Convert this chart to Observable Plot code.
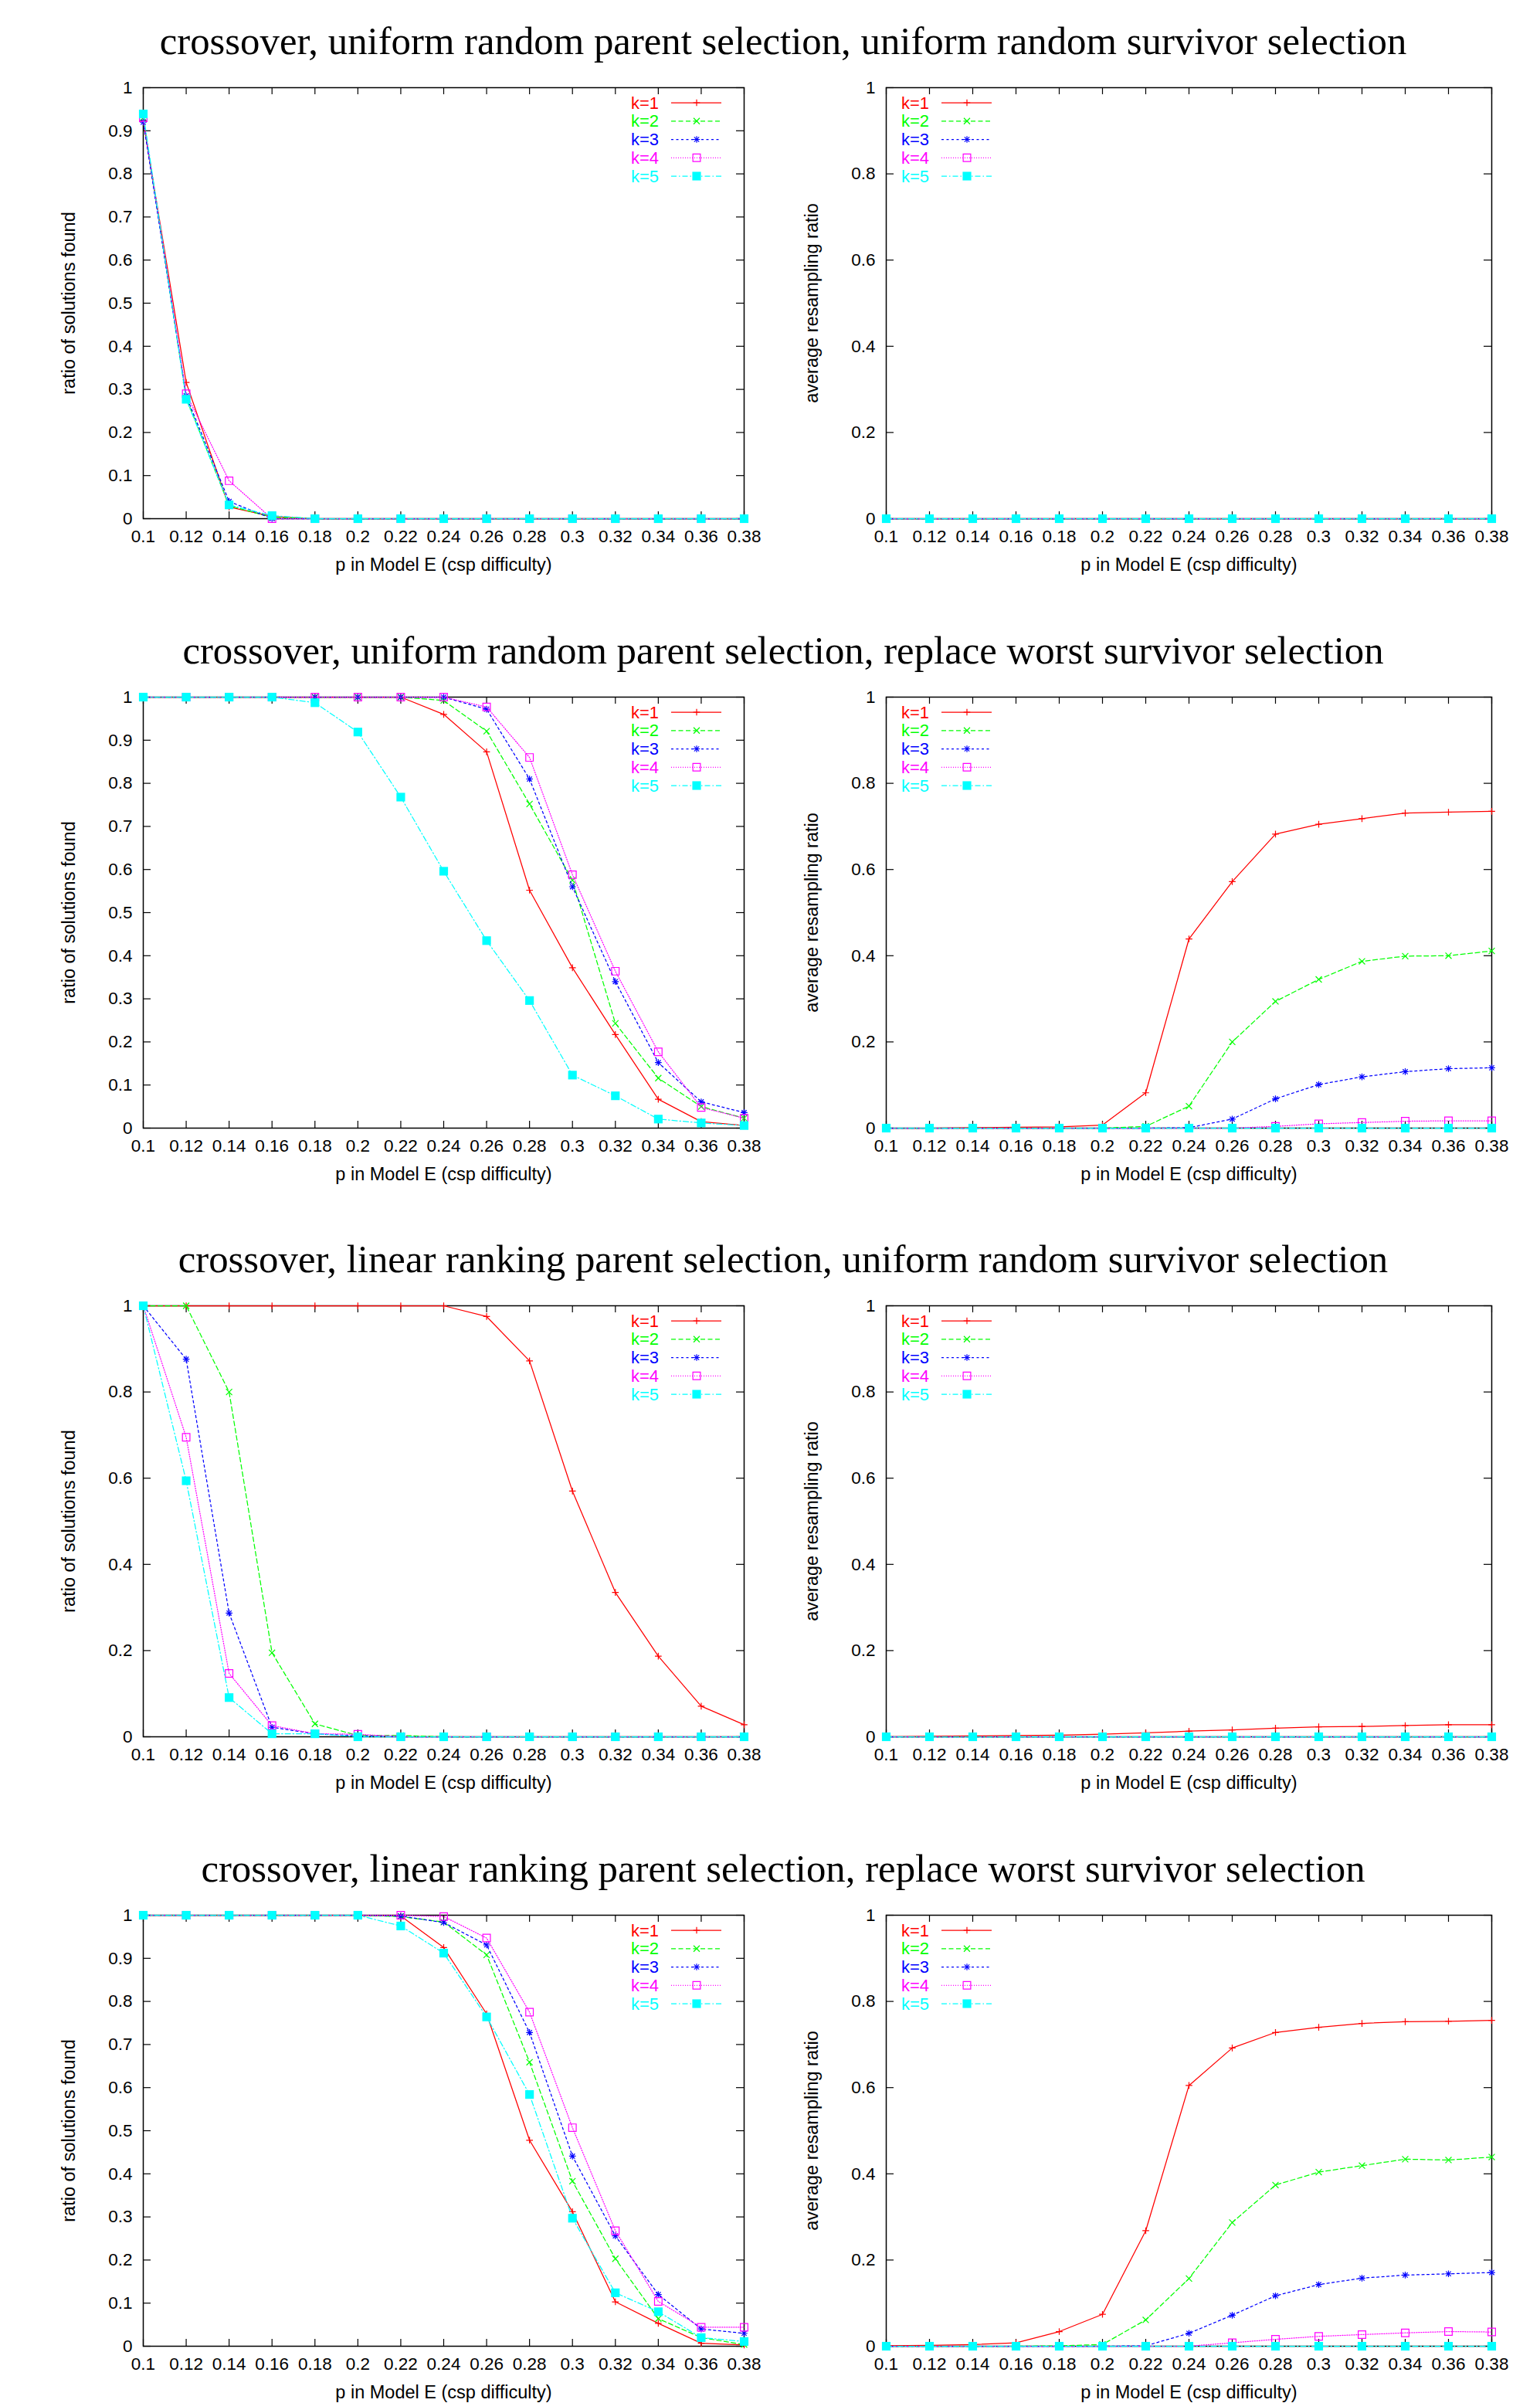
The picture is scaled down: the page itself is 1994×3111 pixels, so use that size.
<!DOCTYPE html>
<html>
<head>
<meta charset="utf-8">
<script src="https://cdn.jsdelivr.net/npm/d3@7"></script>
<script src="https://cdn.jsdelivr.net/npm/@observablehq/plot@0.6"></script>
<style>
  html, body { margin: 0; padding: 0; background: #fff; }
  body { width: 1994px; height: 3111px; position: relative; overflow: hidden; }
  .title { position: absolute; left: 0; width: 2028px; text-align: center; font-family: "Liberation Serif", serif; font-size: 50.8px; line-height: 60px; color: #000; white-space: nowrap; }
  .panel { position: absolute; }
</style>
</head>
<body>
<script>
// ---------------- data ----------------
const xValues = [0.1, 0.12, 0.14, 0.16, 0.18, 0.2, 0.22, 0.24, 0.26, 0.28, 0.3, 0.32, 0.34, 0.36, 0.38];
const xTickLabels = ["0.1", "0.12", "0.14", "0.16", "0.18", "0.2", "0.22", "0.24", "0.26", "0.28", "0.3", "0.32", "0.34", "0.36", "0.38"];
const yTicksFine = [0, 0.1, 0.2, 0.3, 0.4, 0.5, 0.6, 0.7, 0.8, 0.9, 1];
const yTickLabelsFine = ["0", "0.1", "0.2", "0.3", "0.4", "0.5", "0.6", "0.7", "0.8", "0.9", "1"];
const yTicksCoarse = [0, 0.2, 0.4, 0.6, 0.8, 1];
const yTickLabelsCoarse = ["0", "0.2", "0.4", "0.6", "0.8", "1"];
const seriesNames = ["k=1", "k=2", "k=3", "k=4", "k=5"];
const titles = [
  "crossover, uniform random parent selection, uniform random survivor selection",
  "crossover, uniform random parent selection, replace worst survivor selection",
  "crossover, linear ranking parent selection, uniform random survivor selection",
  "crossover, linear ranking parent selection, replace worst survivor selection"
];
const xAxisTitle = "p in Model E (csp difficulty)";
const yTitleSolved = "ratio of solutions found";
const yTitleResampling = "average resampling ratio";

// row 1: uniform random parent, uniform random survivor
const uuSolvedK1 = [0.923, 0.316, 0.027, 0.005, 0, 0, 0, 0, 0, 0, 0, 0, 0, 0, 0];
const uuSolvedK2 = [0.93, 0.28, 0.03, 0.003, 0, 0, 0, 0, 0, 0, 0, 0, 0, 0, 0];
const uuSolvedK3 = [0.92, 0.285, 0.04, 0, 0, 0, 0, 0, 0, 0, 0, 0, 0, 0, 0];
const uuSolvedK4 = [0.93, 0.29, 0.088, 0, 0, 0, 0, 0, 0, 0, 0, 0, 0, 0, 0];
const uuSolvedK5 = [0.939, 0.277, 0.032, 0.007, 0, 0, 0, 0, 0, 0, 0, 0, 0, 0, 0];
const uuResampK1 = [0, 0, 0, 0, 0, 0, 0, 0, 0, 0, 0, 0, 0, 0, 0];
const uuResampK2 = [0, 0, 0, 0, 0, 0, 0, 0, 0, 0, 0, 0, 0, 0, 0];
const uuResampK3 = [0, 0, 0, 0, 0, 0, 0, 0, 0, 0, 0, 0, 0, 0, 0];
const uuResampK4 = [0, 0, 0, 0, 0, 0, 0, 0, 0, 0, 0, 0, 0, 0, 0];
const uuResampK5 = [0, 0, 0, 0, 0, 0, 0, 0, 0, 0, 0, 0, 0, 0, 0];

// row 2: uniform random parent, replace worst survivor
const urSolvedK1 = [1, 1, 1, 1, 1, 1, 1, 0.96, 0.873, 0.552, 0.372, 0.217, 0.067, 0.015, 0.006];
const urSolvedK2 = [1, 1, 1, 1, 1, 1, 1, 0.992, 0.921, 0.752, 0.575, 0.243, 0.116, 0.05, 0.023];
const urSolvedK3 = [1, 1, 1, 1, 1, 1, 1, 1, 0.972, 0.81, 0.56, 0.34, 0.152, 0.061, 0.036];
const urSolvedK4 = [1, 1, 1, 1, 1, 1, 1, 1, 0.977, 0.86, 0.588, 0.364, 0.177, 0.048, 0.023];
const urSolvedK5 = [1, 1, 1, 1, 0.987, 0.919, 0.768, 0.596, 0.435, 0.296, 0.123, 0.075, 0.021, 0.012, 0.006];
const urResampK1 = [0, 0, 0.001, 0.002, 0.003, 0.007, 0.082, 0.439, 0.572, 0.682, 0.705, 0.718, 0.731, 0.733, 0.735];
const urResampK2 = [0, 0, 0, 0, 0, 0, 0.004, 0.051, 0.2, 0.294, 0.345, 0.387, 0.399, 0.4, 0.411];
const urResampK3 = [0, 0, 0, 0, 0, 0, 0, 0.001, 0.021, 0.068, 0.101, 0.119, 0.131, 0.138, 0.14];
const urResampK4 = [0, 0, 0, 0, 0, 0, 0, 0, 0, 0.004, 0.01, 0.013, 0.016, 0.017, 0.017];
const urResampK5 = [0, 0, 0, 0, 0, 0, 0, 0, 0, 0, 0, 0, 0, 0, 0];

// row 3: linear ranking parent, uniform random survivor
const luSolvedK1 = [1, 1, 1, 1, 1, 1, 1, 1, 0.975, 0.872, 0.57, 0.335, 0.187, 0.071, 0.028];
const luSolvedK2 = [1, 1, 0.8, 0.195, 0.03, 0.003, 0.003, 0, 0, 0, 0, 0, 0, 0, 0];
const luSolvedK3 = [1, 0.876, 0.287, 0.022, 0.007, 0.002, 0, 0, 0, 0, 0, 0, 0, 0, 0];
const luSolvedK4 = [1, 0.695, 0.147, 0.026, 0.007, 0.006, 0, 0, 0, 0, 0, 0, 0, 0, 0];
const luSolvedK5 = [1, 0.594, 0.091, 0.007, 0.007, 0, 0, 0, 0, 0, 0, 0, 0, 0, 0];
const luResampK1 = [0, 0.001, 0.002, 0.003, 0.004, 0.006, 0.009, 0.013, 0.016, 0.02, 0.023, 0.024, 0.026, 0.028, 0.028];
const luResampK2 = [0, 0, 0, 0, 0, 0, 0, 0, 0, 0, 0, 0, 0, 0, 0];
const luResampK3 = [0, 0, 0, 0, 0, 0, 0, 0, 0, 0, 0, 0, 0, 0, 0];
const luResampK4 = [0, 0, 0, 0, 0, 0, 0, 0, 0, 0, 0, 0, 0, 0, 0];
const luResampK5 = [0, 0, 0, 0, 0, 0, 0, 0, 0, 0, 0, 0, 0, 0, 0];

// row 4: linear ranking parent, replace worst survivor
const lrSolvedK1 = [1, 1, 1, 1, 1, 1, 0.998, 0.925, 0.771, 0.478, 0.312, 0.103, 0.053, 0.007, 0.003];
const lrSolvedK2 = [1, 1, 1, 1, 1, 1, 0.997, 0.984, 0.908, 0.659, 0.383, 0.203, 0.064, 0.02, 0.004];
const lrSolvedK3 = [1, 1, 1, 1, 1, 1, 0.998, 0.983, 0.931, 0.728, 0.441, 0.256, 0.12, 0.04, 0.03];
const lrSolvedK4 = [1, 1, 1, 1, 1, 1, 1, 0.997, 0.947, 0.775, 0.507, 0.268, 0.104, 0.044, 0.044];
const lrSolvedK5 = [1, 1, 1, 1, 1, 1, 0.975, 0.912, 0.764, 0.584, 0.297, 0.124, 0.08, 0.02, 0.011];
const lrResampK1 = [0.001, 0.002, 0.004, 0.008, 0.034, 0.074, 0.268, 0.605, 0.692, 0.728, 0.74, 0.749, 0.753, 0.754, 0.756];
const lrResampK2 = [0, 0, 0, 0, 0.001, 0.004, 0.061, 0.157, 0.287, 0.374, 0.404, 0.419, 0.434, 0.432, 0.439];
const lrResampK3 = [0, 0, 0, 0, 0, 0, 0.001, 0.03, 0.072, 0.117, 0.143, 0.158, 0.165, 0.168, 0.171];
const lrResampK4 = [0, 0, 0, 0, 0, 0, 0, 0, 0.008, 0.016, 0.023, 0.027, 0.031, 0.034, 0.033];
const lrResampK5 = [0, 0, 0, 0, 0, 0, 0, 0, 0, 0, 0, 0, 0, 0, 0];

// ---------------- styling ----------------
const colors = ["#ff0000", "#00ff00", "#0000ff", "#ff00ff", "#00ffff"];
const dashes = [null, "6,3.5", "3,3.5", "1,2", "7,3,1.5,3"];
const sansFont = "'Liberation Sans', Arial, sans-serif";
const tickFontSize = 22.5, titleFontSize = 23.5, legendFontSize = 22;

// layout (pixel geometry of the page)
const rowFrameTops = [113, 902, 1690, 2479];
const frameH = 558;
const svgW = 997;
const mTop = 20, mBottom = 100;
const leftGeom = { left: 0, marginLeft: 185, marginRight: 34 };
const rightGeom = { left: 997, marginLeft: 150, marginRight: 63 };

function markerMarks(vals, i) {
  const base = { x: (d, j) => xValues[j], y: d => d };
  const c = colors[i];
  if (i === 0) return [Plot.dot(vals, { ...base, symbol: "plus", r: 2.9, stroke: c, strokeWidth: 1.2 })];
  if (i === 1) return [Plot.dot(vals, { ...base, symbol: "times", r: 3.7, stroke: c, strokeWidth: 1.2 })];
  if (i === 2) return [
    Plot.dot(vals, { ...base, symbol: "plus", r: 2.9, stroke: c, strokeWidth: 1.2 }),
    Plot.dot(vals, { ...base, symbol: "times", r: 3.0, stroke: c, strokeWidth: 1.2 })
  ];
  if (i === 3) return [Plot.dot(vals, { ...base, symbol: "square2", r: 6.2, stroke: c, fill: "none", strokeWidth: 1.2 })];
  return [Plot.dot(vals, { ...base, symbol: "square", r: 6.3, fill: c, stroke: "none" })];
}

function legendSymbol(g, i, x, y) {
  const c = colors[i];
  const sz = r => r * r * Math.PI;
  const add = (type, r, filled) => g.append("path")
    .attr("transform", `translate(${x},${y})`)
    .attr("d", d3.symbol(type, sz(r))())
    .attr("fill", filled ? c : "none")
    .attr("stroke", filled ? "none" : c)
    .attr("stroke-width", 1.2);
  if (i === 0) add(d3.symbolPlus, 2.9);
  if (i === 1) add(d3.symbolTimes, 3.7);
  if (i === 2) { add(d3.symbolPlus, 2.9); add(d3.symbolTimes, 3.0); }
  if (i === 3) add(d3.symbolSquare2, 6.2);
  if (i === 4) add(d3.symbolSquare, 6.3, true);
}

function makePanel({ series, yTicks, yTickLabels, yTitle, geom, frameTop, legendLeft }) {
  const plotW = svgW - geom.marginLeft - geom.marginRight;
  const marks = [
    Plot.frame({ stroke: "#000", strokeWidth: 1.5 }),
    // inward ticks on all four sides (mirrored like gnuplot)
    Plot.tickX(xValues, { x: d => d, insetTop: frameH - 9, stroke: "#000", strokeWidth: 1.2 }),
    Plot.tickX(xValues, { x: d => d, insetBottom: frameH - 9, stroke: "#000", strokeWidth: 1.2 }),
    Plot.tickY(yTicks, { y: d => d, insetRight: plotW - 10, stroke: "#000", strokeWidth: 1.2 }),
    Plot.tickY(yTicks, { y: d => d, insetLeft: plotW - 10, stroke: "#000", strokeWidth: 1.2 }),
    Plot.axisX({ ticks: xValues, tickSize: 0, tickPadding: 15, tickFormat: d => xTickLabels[xValues.indexOf(d)], label: null, fontSize: tickFontSize }),
    Plot.axisY({ ticks: yTicks, tickSize: 0, tickPadding: 14, tickFormat: d => yTickLabels[yTicks.indexOf(d)], label: null, fontSize: tickFontSize }),
    Plot.text([xAxisTitle], { text: d => d, frameAnchor: "bottom", dy: 60, lineAnchor: "middle", textAnchor: "middle", fontSize: titleFontSize }),
    Plot.text([yTitle], { text: d => d, frameAnchor: "left", dx: -96, rotate: -90, lineAnchor: "middle", textAnchor: "middle", fontSize: titleFontSize })
  ];
  series.forEach((vals, i) => {
    marks.push(Plot.line(vals, { x: (d, j) => xValues[j], y: d => d, stroke: colors[i], strokeWidth: 1.25, strokeDasharray: dashes[i] }));
    marks.push(...markerMarks(vals, i));
  });
  const svg = Plot.plot({
    width: svgW,
    height: frameH + mTop + mBottom,
    marginTop: mTop,
    marginBottom: mBottom,
    marginLeft: geom.marginLeft,
    marginRight: geom.marginRight,
    x: { domain: [0.1, 0.38], axis: null },
    y: { domain: [0, 1], axis: null },
    clip: false,
    style: { fontFamily: sansFont, fontSize: tickFontSize + "px", color: "#000", background: "#fff", overflow: "visible" },
    marks
  });
  // legend (inside the frame, gnuplot style)
  const g = d3.select(svg).append("g").attr("class", "legend");
  const textEnd = legendLeft ? geom.marginLeft + 56 : geom.marginLeft + plotW - 110;
  const lineX1 = textEnd + 16, lineX2 = textEnd + 81, markX = textEnd + 49;
  seriesNames.forEach((name, i) => {
    const y = mTop + 20 + i * 23.75;
    g.append("text").attr("x", textEnd).attr("y", y).attr("text-anchor", "end").attr("dy", "0.35em")
      .attr("fill", colors[i]).attr("font-family", sansFont).attr("font-size", legendFontSize).text(name);
    g.append("line").attr("x1", lineX1).attr("x2", lineX2).attr("y1", y).attr("y2", y)
      .attr("stroke", colors[i]).attr("stroke-width", 1.25).attr("stroke-dasharray", dashes[i]);
    legendSymbol(g, i, markX, y);
  });
  svg.classList.add("panel");
  svg.style.left = geom.left + "px";
  svg.style.top = (frameTop - mTop) + "px";
  document.body.appendChild(svg);
}

const rows = [
  { solved: [uuSolvedK1, uuSolvedK2, uuSolvedK3, uuSolvedK4, uuSolvedK5], resamp: [uuResampK1, uuResampK2, uuResampK3, uuResampK4, uuResampK5], fine: true },
  { solved: [urSolvedK1, urSolvedK2, urSolvedK3, urSolvedK4, urSolvedK5], resamp: [urResampK1, urResampK2, urResampK3, urResampK4, urResampK5], fine: true },
  { solved: [luSolvedK1, luSolvedK2, luSolvedK3, luSolvedK4, luSolvedK5], resamp: [luResampK1, luResampK2, luResampK3, luResampK4, luResampK5], fine: false },
  { solved: [lrSolvedK1, lrSolvedK2, lrSolvedK3, lrSolvedK4, lrSolvedK5], resamp: [lrResampK1, lrResampK2, lrResampK3, lrResampK4, lrResampK5], fine: true }
];

rows.forEach((row, r) => {
  const frameTop = rowFrameTops[r];
  const t = document.createElement("div");
  t.className = "title";
  t.textContent = titles[r];
  // baseline sits 43px above the frame
  t.style.top = (frameTop - 43 - 47) + "px";
  document.body.appendChild(t);
  makePanel({
    series: row.solved,
    yTicks: row.fine ? yTicksFine : yTicksCoarse,
    yTickLabels: row.fine ? yTickLabelsFine : yTickLabelsCoarse,
    yTitle: yTitleSolved, geom: leftGeom, frameTop, legendLeft: false
  });
  makePanel({
    series: row.resamp,
    yTicks: yTicksCoarse, yTickLabels: yTickLabelsCoarse,
    yTitle: yTitleResampling, geom: rightGeom, frameTop, legendLeft: true
  });
});
</script>
</body>
</html>
